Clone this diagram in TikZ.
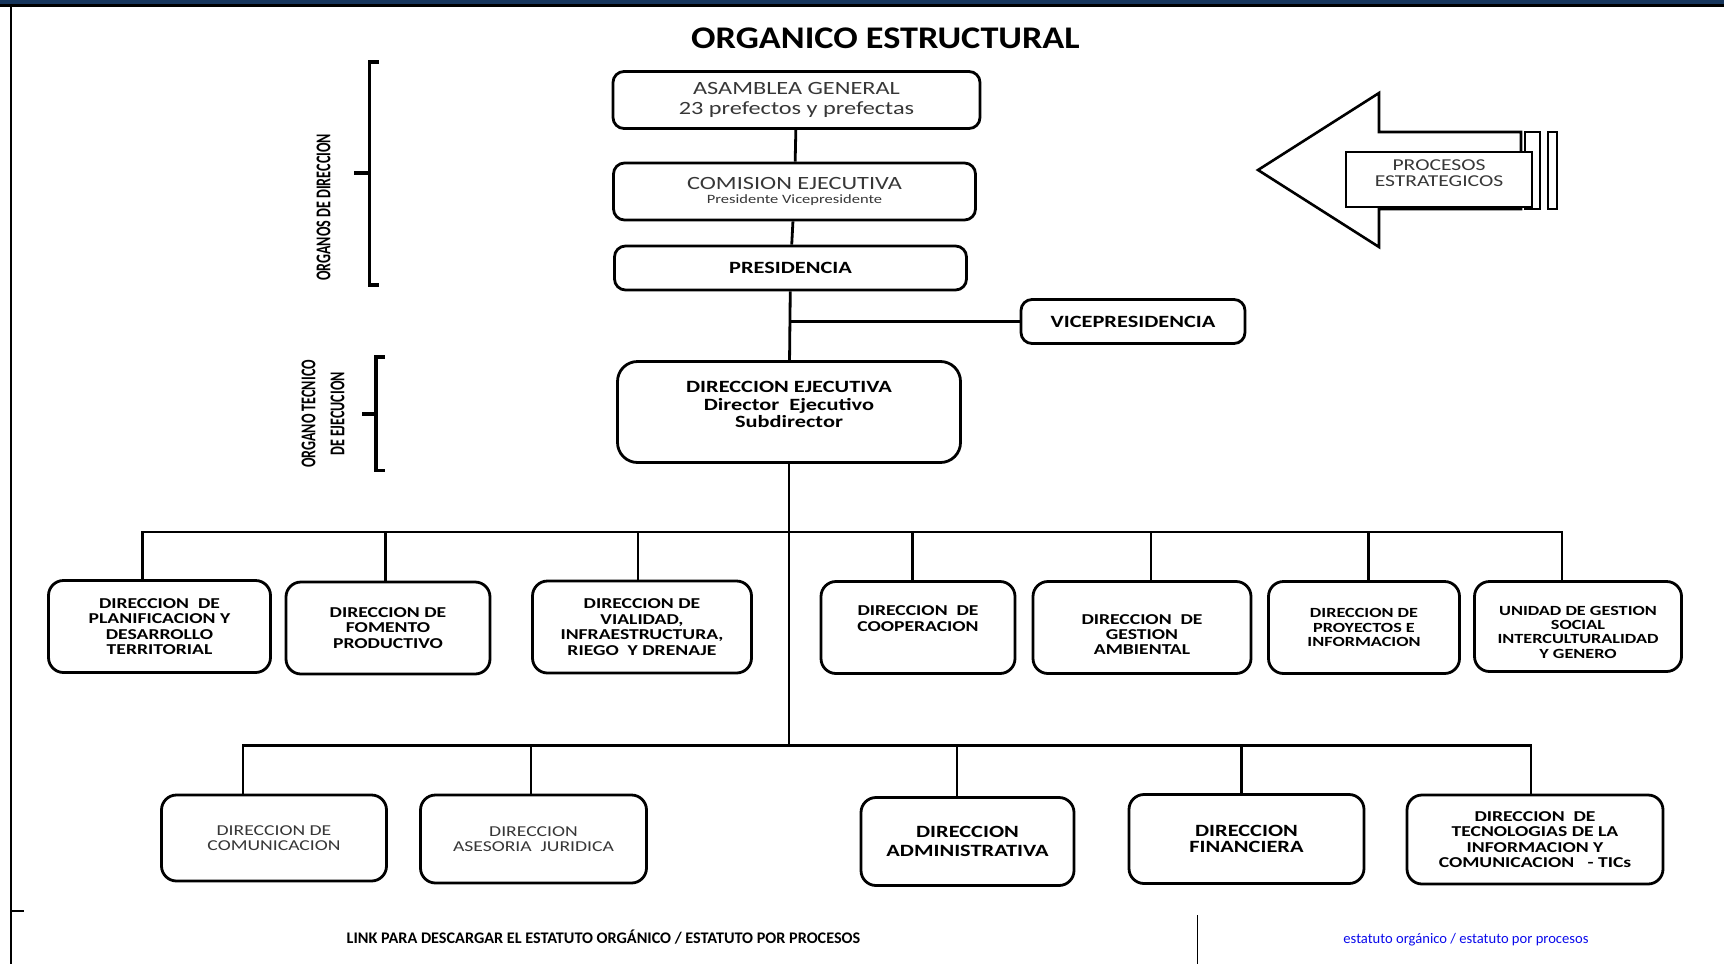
\documentclass[tikz,border=0pt]{standalone}
\usepackage{fontspec}
\setmainfont{Carlito}
\newfontfamily\boxfont{Carlito}[FakeStretch=1.3]
\newfontfamily\titlefont{Carlito}[FakeStretch=1.15]
\newfontfamily\sidefont{Carlito}[FakeStretch=0.67]
\usepackage{xcolor}
\definecolor{bandblue}{RGB}{23,54,93}
\definecolor{txtgray}{RGB}{55,55,55}
\definecolor{linkblue}{RGB}{10,10,235}

\tikzset{
  box/.style={draw, line width=2.8pt, rounded corners=11pt, fill=white, align=center, inner sep=0pt},
  rowbox/.style={box, rounded corners=15pt},
  conn/.style={line width=2.8pt},
  brk/.style={line width=3.4pt},
  reg/.style={align=center, text=txtgray, font=\boxfont\fontsize{18.7}{20}\selectfont},
  regrow/.style={align=center, text=txtgray, font=\boxfont\fontsize{15.1}{15.4}\selectfont},
  bld/.style={align=center, font=\boxfont\bfseries\fontsize{17.2}{18}\selectfont},
  rowtxt/.style={align=center, font=\boxfont\bfseries\fontsize{15.1}{15.4}\selectfont},
  rowtxts/.style={align=center, font=\boxfont\bfseries\fontsize{14}{14.3}\selectfont},
  side/.style={rotate=90, align=center, font=\sidefont\bfseries\fontsize{21}{29}\selectfont}
}

\begin{document}
\begin{tikzpicture}[x=1pt,y=-1pt]
\useasboundingbox (0,0) rectangle (1724,964);
\fill[bandblue] (0,0) rectangle (1724,4.5);
\fill (0,4) rectangle (1724,6.5);
\draw[line width=2.2pt] (11,6)--(11,964);
\draw[line width=2.2pt] (11,911)--(24,911);

\node (titulo) at (885.5,38.5) [font=\titlefont\bfseries\fontsize{31.5}{32}\selectfont]{ORGANICO ESTRUCTURAL};

% llaves de la izquierda
\draw[brk] (379,62)--(369.5,62)--(369.5,285)--(379,285);
\draw[brk] (369.5,173)--(354,173);
\node (dirlbl) at (323.5,207.5) [side]{ORGANOS DE DIRECCION};
\draw[brk] (384.5,357)--(376,357)--(376,470.5)--(384.5,470.5);
\draw[brk] (376,414)--(362,414);
\node (ejelbl) at (323,414) [side]{ORGANO TECNICO\\DE EJECUCION};

% flecha
\draw[line width=2.6pt, fill=white] (1521,132)--(1379,132)--(1379,93)--(1258,170)--(1379,247)--(1379,209)--(1521,209)--cycle;
\draw[line width=2.6pt, fill=white] (1525,132) rectangle (1540,209);
\draw[line width=2.6pt, fill=white] (1548,132) rectangle (1557,209);
\node (proc) at (1439,179.5) [draw, line width=2.6pt, fill=white, minimum width=186pt, minimum height=55pt, inner sep=0pt]{};
\node (proct) at ([yshift=6.5pt]proc.center) [reg, font=\boxfont\fontsize{16.6}{15.7}\selectfont]{PROCESOS\\ESTRATEGICOS};

% direccion
\node (asam) at (796.5,100) [box, minimum width=367pt, minimum height=57pt, reg]{ASAMBLEA GENERAL\\23 prefectos y prefectas};
\node (comi) at (794.5,191.5) [box, minimum width=362pt, minimum height=57pt, reg]{COMISION EJECUTIVA\\[-6pt]{\fontsize{12.7}{14}\selectfont Presidente Vicepresidente}};
\node (pres) at (790.5,268) [box, minimum width=352pt, minimum height=44pt, bld]{PRESIDENCIA};
\node (vice) at (1133,321.5) [box, minimum width=224pt, minimum height=44pt, bld]{VICEPRESIDENCIA};
\node (dire) at (789,412) [box, rounded corners=20pt, minimum width=343pt, minimum height=101pt]{};
\node (diret) at ([yshift=7.5pt]dire.center) [bld, font=\boxfont\bfseries\fontsize{17.2}{17.5}\selectfont]{DIRECCION EJECUTIVA\\Director~ Ejecutivo\\Subdirector};

\draw[conn] (asam)--(comi);
\draw[conn] (comi)--(pres);
\draw[conn] (pres)--(dire);
\coordinate (vj) at (790,321.5);
\draw[conn] (vj)--(vice);
\coordinate (b1) at (789,532);
\coordinate (b2) at (789,745.5);
\draw[conn] (dire.south)--(b2);

% primera fila
\node (plan) at (159.5,626.5) [rowbox, minimum width=222pt, minimum height=92pt, rowtxt]{DIRECCION~ DE\\PLANIFICACION Y\\DESARROLLO\\TERRITORIAL};
\node (fome) at (388,628) [rowbox, minimum width=204pt, minimum height=92pt, rowtxt]{DIRECCION DE\\FOMENTO\\PRODUCTIVO};
\node (vial) at (642,627) [rowbox, minimum width=219pt, minimum height=92pt, rowtxt]{DIRECCION DE\\VIALIDAD,\\INFRAESTRUCTURA,\\RIEGO~ Y DRENAJE};
\node (coop) at (918,627.5) [rowbox, minimum width=194pt, minimum height=92pt]{};
\node (coopt) at ([yshift=9pt]coop.center) [rowtxt]{DIRECCION~ DE\\COOPERACION};
\node (gest) at (1142,627.5) [rowbox, minimum width=218pt, minimum height=92pt]{};
\node (gestt) at ([yshift=-7pt]gest.center) [rowtxt]{DIRECCION~ DE\\GESTION\\AMBIENTAL};
\node (proy) at (1364,627.5) [rowbox, minimum width=191pt, minimum height=92pt, rowtxts]{DIRECCION DE\\PROYECTOS E\\INFORMACION};
\node (unid) at (1578,626.5) [rowbox, minimum width=207pt, minimum height=90pt]{};
\node (unidt) at ([yshift=-5.5pt]unid.center) [rowtxts]{UNIDAD DE GESTION\\SOCIAL\\INTERCULTURALIDAD\\Y GENERO};

\coordinate (jplan) at (142.5,532);
\coordinate (junid) at (1562,532);
\draw[conn] (plan.north -| jplan)--(jplan)--(junid)--(junid |- unid.north);
\foreach \n/\x in {fome/385.5, vial/638, coop/912.5, gest/1151, proy/1368.5}{
  \coordinate (j\n) at (\x,532);
  \draw[conn] (j\n)--(j\n |- \n.north);
}

% segunda fila
\node (comu) at (274,838) [rowbox, minimum width=225pt, minimum height=86pt, regrow]{DIRECCION DE\\COMUNICACION};
\node (ases) at (533.5,839) [rowbox, minimum width=226pt, minimum height=88pt, regrow]{DIRECCION\\ASESORIA~ JURIDICA};
\node (admi) at (967.5,841.5) [rowbox, minimum width=213pt, minimum height=88pt, bld, font=\boxfont\bfseries\fontsize{17.2}{18.7}\selectfont]{DIRECCION\\ADMINISTRATIVA};
\node (fina) at (1246.5,839) [rowbox, minimum width=235pt, minimum height=89pt, bld, font=\boxfont\bfseries\fontsize{17.2}{16.5}\selectfont]{DIRECCION\\FINANCIERA};
\node (tics) at (1535,839.5) [rowbox, minimum width=256pt, minimum height=89pt, rowtxt]{DIRECCION~ DE\\TECNOLOGIAS DE LA\\INFORMACION Y\\COMUNICACION~~ - TICs};

\coordinate (jcomu) at (243,745.5);
\coordinate (jtics) at (1531,745.5);
\draw[conn] (comu.north -| jcomu)--(jcomu)--(jtics)--(jtics |- tics.north);
\foreach \n/\x in {ases/531, admi/957, fina/1241.5}{
  \coordinate (j\n) at (\x,745.5);
  \draw[conn] (j\n)--(j\n |- \n.north);
}

% pie
\draw[line width=1.2pt] (1197.5,915)--(1197.5,964);
\node (link) at (603.5,943) [anchor=base, font=\bfseries\fontsize{16.2}{18}\selectfont]{LINK PARA DESCARGAR EL ESTATUTO ORGÁNICO / ESTATUTO POR PROCESOS};
\node (desc) at (1466,943) [anchor=base, text=linkblue, font=\fontsize{14.6}{17}\selectfont]{estatuto orgánico / estatuto por procesos};
\end{tikzpicture}
\end{document}
